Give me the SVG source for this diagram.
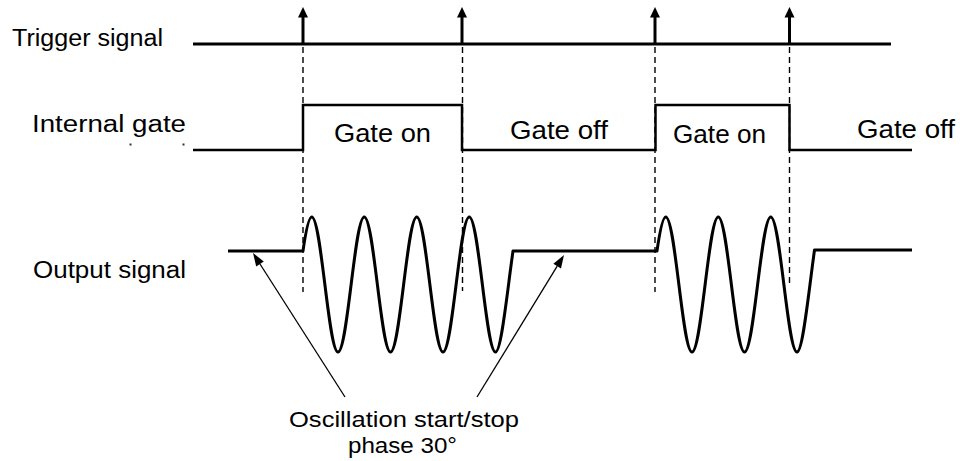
<svg xmlns="http://www.w3.org/2000/svg" width="960" height="461" viewBox="0 0 960 461">
<style>
text{font-family:"Liberation Sans",Arial,sans-serif;fill:#000}
.lbl{font-size:23px}
.gl{font-size:25px}
.ann{font-size:22px}
.sig{fill:none;stroke:#000;stroke-width:3;stroke-linejoin:round}
.gate{fill:none;stroke:#000;stroke-width:2.5}
.dash{fill:none;stroke:#000;stroke-width:1.4;stroke-dasharray:6 4}
.thin{fill:none;stroke:#000;stroke-width:1.3}
.head{fill:#000}
</style>
<rect width="960" height="461" fill="#fff"/>
<g id="labels">
<text class="lbl" x="12" y="46" textLength="151" lengthAdjust="spacingAndGlyphs">Trigger signal</text>
<text class="lbl" x="32" y="131.5" textLength="154" lengthAdjust="spacingAndGlyphs">Internal gate</text>
<rect x="129.5" y="143.5" width="2" height="2" fill="#333"/>
<rect x="182.5" y="143.5" width="2" height="2" fill="#333"/>
<text class="lbl" x="33" y="278" textLength="153" lengthAdjust="spacingAndGlyphs">Output signal</text>
</g>
<g id="trigger">
<line class="sig" x1="193" y1="44" x2="891" y2="44"/>
<line class="sig" x1="303" y1="44" x2="303" y2="15"/>
<polygon class="head" points="303,7 298,17.5 308,17.5"/>
<line class="sig" x1="462" y1="44" x2="462" y2="15"/>
<polygon class="head" points="462,7 457,17.5 467,17.5"/>
<line class="sig" x1="655" y1="44" x2="655" y2="15"/>
<polygon class="head" points="655,7 650,17.5 660,17.5"/>
<line class="sig" x1="789.5" y1="44" x2="789.5" y2="15"/>
<polygon class="head" points="789.5,7 784.5,17.5 794.5,17.5"/>
</g>
<g id="connectors">
<line class="dash" x1="303" y1="47" x2="303" y2="292"/>
<line class="dash" x1="462.5" y1="47" x2="462.5" y2="291"/>
<line class="dash" x1="655" y1="47" x2="655" y2="292"/>
<line class="dash" x1="789.5" y1="47" x2="789.5" y2="287"/>
<line class="thin" x1="345" y1="397" x2="260" y2="264"/>
<polygon class="head" points="253,253 263.8,261.5 256.2,266.4"/>
<line class="thin" x1="477" y1="397" x2="557.2" y2="266.1"/>
<polygon class="head" points="564,255 561,268.4 553.4,263.7"/>
</g>
<g id="gate">
<polyline class="gate" points="193,150 303,150 303,105 462,105 462,150 655.5,150 655.5,105 789.5,105 789.5,150 912,150"/>
<text class="gl" x="334" y="141.5" textLength="97" lengthAdjust="spacingAndGlyphs">Gate on</text>
<text class="gl" x="510" y="138.5" textLength="98" lengthAdjust="spacingAndGlyphs">Gate off</text>
<text class="gl" x="673" y="143" textLength="93" lengthAdjust="spacingAndGlyphs">Gate on</text>
<text class="gl" x="857" y="137.5" textLength="98" lengthAdjust="spacingAndGlyphs">Gate off</text>
</g>
<g id="output">
<path class="sig" d="M228,251 L303,251 C305.9,230.6 308.85,217 311.75,217 C321.31,217 328.44,352 338,352 C347.56,352 354.69,217 364.25,217 C373.81,217 380.94,352 390.5,352 C400.06,352 407.19,217 416.75,217 C426.31,217 433.44,352 443,352 C452.56,352 459.69,217 469.25,217 C478.81,217 485.94,352 495.5,352 C501.33,352 507.17,291.8 513,251 L657,251 C659.92,230.6 662.83,217 665.75,217 C675.31,217 682.44,352 692,352 C701.56,352 708.69,217 718.25,217 C727.81,217 734.94,352 744.5,352 C754.06,352 761.19,217 770.75,217 C780.31,217 787.44,352 797,352 C802.83,352 808.67,291.8 814.5,250 L912,250"/>
</g>
<g id="annotation">
<text class="ann" x="289" y="427" textLength="230" lengthAdjust="spacingAndGlyphs">Oscillation start/stop</text>
<text class="ann" x="348" y="453" textLength="109" lengthAdjust="spacingAndGlyphs">phase 30°</text>
</g>
</svg>
